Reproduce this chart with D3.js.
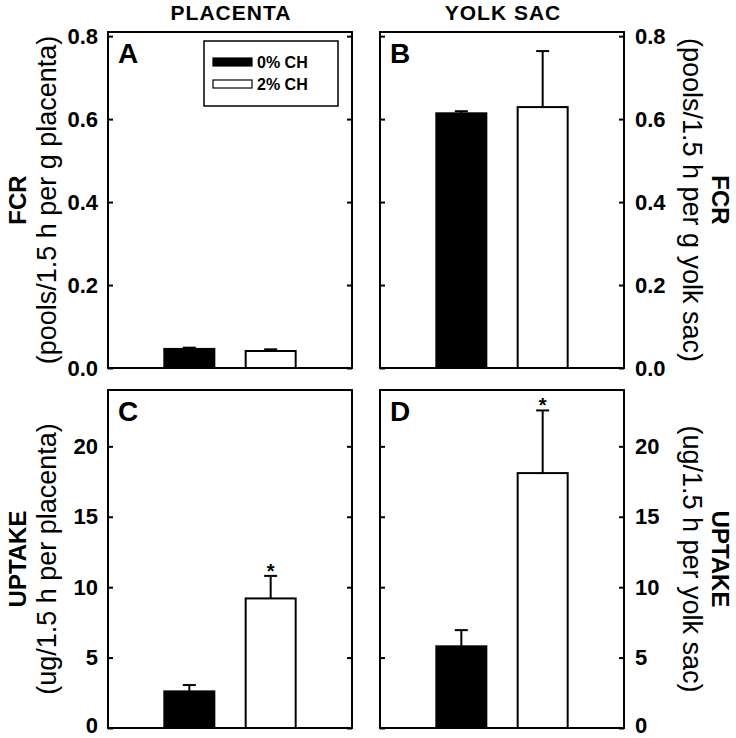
<!DOCTYPE html>
<html><head><meta charset="utf-8">
<script src="https://cdn.jsdelivr.net/npm/d3@7"></script>
<style>
body{margin:0;background:#fff;}
text{font-family:"Liberation Sans",Arial,sans-serif;}
</style></head>
<body><svg id="c" width="736" height="738"></svg>
<script>
const groups = ["0% CH", "2% CH"];
const columnTitles = ["PLACENTA", "YOLK SAC"];
const panelLetters = ["A", "B", "C", "D"];
const fcrPlacenta = [0.046, 0.041];
const fcrPlacentaErr = [0.003, 0.004];
const fcrYolk = [0.614, 0.629];
const fcrYolkErr = [0.005, 0.135];
const uptakePlacenta = [2.6, 9.2];
const uptakePlacentaErr = [0.45, 1.6];
const uptakeYolk = [5.8, 18.1];
const uptakeYolkErr = [1.15, 4.45];
const fcrTicks = [0, 0.2, 0.4, 0.6, 0.8];
const uptakeTicks = [0, 5, 10, 15, 20];
const sigUptakePlacenta = [false, true];
const sigUptakeYolk = [false, true];

const svg = d3.select("#c");
const FONT = '"Liberation Sans",Arial,sans-serif';

const panels = [
  {letter: panelLetters[0], x: 108, y: 32, w: 244, h: 336, vals: fcrPlacenta, errs: fcrPlacentaErr, dom: [0, 0.81], ticks: fcrTicks, fmt: d3.format(".1f"), side: "left", sig: [false, false], legend: true,
   title: "FCR", sub: "(pools/1.5 h per g placenta)"},
  {letter: panelLetters[1], x: 380, y: 32, w: 244, h: 336, vals: fcrYolk, errs: fcrYolkErr, dom: [0, 0.81], ticks: fcrTicks, fmt: d3.format(".1f"), side: "right", sig: [false, false],
   title: "FCR", sub: "(pools/1.5 h per g yolk sac)"},
  {letter: panelLetters[2], x: 108, y: 390, w: 244, h: 338, vals: uptakePlacenta, errs: uptakePlacentaErr, dom: [0, 24], ticks: uptakeTicks, fmt: d3.format("d"), side: "left", sig: sigUptakePlacenta,
   title: "UPTAKE", sub: "(ug/1.5 h per placenta)"},
  {letter: panelLetters[3], x: 380, y: 390, w: 244, h: 338, vals: uptakeYolk, errs: uptakeYolkErr, dom: [0, 24], ticks: uptakeTicks, fmt: d3.format("d"), side: "right", sig: sigUptakeYolk,
   title: "UPTAKE", sub: "(ug/1.5 h per yolk sac)"}
];

// column titles
svg.append("text").attr("x", 231).attr("y", 20).attr("text-anchor", "middle")
  .attr("font-size", 21).attr("font-weight", "bold").attr("letter-spacing", 1).text(columnTitles[0]);
svg.append("text").attr("x", 503).attr("y", 20).attr("text-anchor", "middle")
  .attr("font-size", 21).attr("font-weight", "bold").attr("letter-spacing", 1).text(columnTitles[1]);

const barW = 50;

panels.forEach(p => {
  const g = svg.append("g").attr("transform", `translate(${p.x},${p.y})`);
  const x = d3.scalePoint().domain(groups).range([0, p.w]).padding(1);
  const y = d3.scaleLinear().domain(p.dom).range([p.h, 0]);

  // bars
  g.selectAll("rect.bar").data(groups).enter().append("rect")
    .attr("x", d => x(d) - barW / 2)
    .attr("y", (d, i) => y(p.vals[i]))
    .attr("width", barW)
    .attr("height", (d, i) => p.h - y(p.vals[i]))
    .attr("fill", (d, i) => i === 0 ? "#000" : "#fff")
    .attr("stroke", "#000").attr("stroke-width", 2);

  // error bars (upper only)
  groups.forEach((d, i) => {
    const top = y(p.vals[i] + p.errs[i]);
    const base = y(p.vals[i]);
    g.append("line").attr("x1", x(d)).attr("x2", x(d)).attr("y1", base).attr("y2", top)
      .attr("stroke", "#000").attr("stroke-width", 2);
    g.append("line").attr("x1", x(d) - 6.5).attr("x2", x(d) + 6.5).attr("y1", top).attr("y2", top)
      .attr("stroke", "#000").attr("stroke-width", 2);
    if (p.sig[i]) {
      g.append("text").attr("x", x(d)).attr("y", top + 2).attr("text-anchor", "middle")
        .attr("font-size", 20).attr("font-weight", "bold").text("*");
    }
  });

  // frame
  g.append("rect").attr("x", 0).attr("y", 0).attr("width", p.w).attr("height", p.h)
    .attr("fill", "none").attr("stroke", "#000").attr("stroke-width", 2);

  // inward ticks both sides
  const leftAx = d3.axisRight(y).tickValues(p.ticks).tickSize(5).tickFormat("");
  const rightAx = d3.axisLeft(y).tickValues(p.ticks).tickSize(5).tickFormat("");
  const la = g.append("g").call(leftAx);
  const ra = g.append("g").attr("transform", `translate(${p.w},0)`).call(rightAx);
  [la, ra].forEach(a => {
    a.select(".domain").remove();
    a.selectAll("line").attr("stroke", "#000").attr("stroke-width", 2);
  });

  // tick labels
  const labAx = p.side === "left"
    ? d3.axisLeft(y).tickValues(p.ticks).tickSize(0).tickPadding(10).tickFormat(p.fmt)
    : d3.axisRight(y).tickValues(p.ticks).tickSize(0).tickPadding(11).tickFormat(p.fmt);
  const lab = g.append("g").attr("transform", p.side === "left" ? "translate(0,0)" : `translate(${p.w},0)`).call(labAx);
  lab.select(".domain").remove();
  lab.selectAll("text").attr("font-family", FONT).attr("font-size", 22).attr("font-weight", "bold").attr("fill", "#000");
  // keep the bottom label of the lower panels inside the page
  if (p.y + p.h > 720) {
    lab.selectAll(".tick").filter(d => d === 0).select("text").attr("dy", "0.2em");
  }

  // panel letter
  g.append("text").attr("x", 10).attr("y", 31).attr("font-size", 28).attr("font-weight", "bold").text(p.letter);

  // y axis titles
  const cy = p.y + p.h / 2;
  if (p.side === "left") {
    svg.append("text").attr("transform", `translate(26,${cy}) rotate(-90)`).attr("text-anchor", "middle")
      .attr("font-size", 24).attr("font-weight", "bold").text(p.title);
    svg.append("text").attr("transform", `translate(56,${cy}) rotate(-90)`).attr("text-anchor", "middle")
      .attr("font-size", 27).text(p.sub);
  } else {
    svg.append("text").attr("transform", `translate(712,${cy}) rotate(90)`).attr("text-anchor", "middle")
      .attr("font-size", 24).attr("font-weight", "bold").text(p.title);
    svg.append("text").attr("transform", `translate(683,${cy}) rotate(90)`).attr("text-anchor", "middle")
      .attr("font-size", 27).text(p.sub);
  }

  // legend
  if (p.legend) {
    const lg = g.append("g").attr("transform", "translate(96,9)");
    lg.append("rect").attr("x", 0).attr("y", 0).attr("width", 134).attr("height", 65)
      .attr("fill", "#fff").attr("stroke", "#000").attr("stroke-width", 1.5);
    groups.forEach((d, i) => {
      lg.append("rect").attr("x", 9).attr("y", 17 + i * 22).attr("width", 39).attr("height", 8)
        .attr("fill", i === 0 ? "#000" : "#fff").attr("stroke", "#000").attr("stroke-width", 1.2);
      lg.append("text").attr("x", 53).attr("y", 27 + i * 22).attr("font-size", 16).attr("font-weight", "bold").text(d);
    });
  }
});
</script></body></html>
